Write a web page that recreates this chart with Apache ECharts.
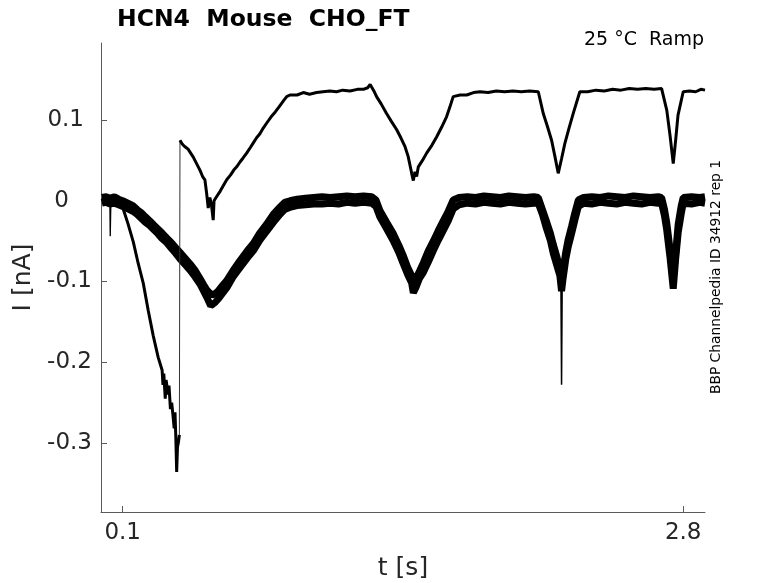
<!DOCTYPE html>
<html>
<head>
<meta charset="utf-8">
<script src="https://cdn.jsdelivr.net/npm/echarts@6/dist/echarts.min.js"></script>
<style>
html,body{margin:0;padding:0;background:#fff;}
#chart{width:778px;height:583px;}
</style>
</head>
<body>
<div id="chart"></div>
<script>
// ---- data (t [s], I [nA]) ----
const titleText = 'HCN4  Mouse  CHO_FT';
const conditionText = '25 °C  Ramp';
const sideText = 'BBP Channelpedia ID 34912 rep 1';
const xTicks = [0.1, 2.8];
const yTicks = [-0.3, -0.2, -0.1, 0, 0.1];

// thin/noisy sweep: fast run-down, jump, then upper ramp response
const traceA1 = [[0.000,0.003],[0.010,-0.001],[0.019,0.004],[0.028,0.000],[0.038,0.003],[0.043,-0.002],[0.055,0.003],[0.063,0.000],[0.072,0.003],[0.082,-0.002],[0.092,-0.004],[0.101,-0.009],[0.125,-0.028],[0.151,-0.051],[0.175,-0.078],[0.199,-0.102],[0.223,-0.136],[0.247,-0.167],[0.271,-0.194],[0.290,-0.210],[0.294,-0.228],[0.298,-0.214],[0.305,-0.245],[0.309,-0.222],[0.319,-0.240],[0.323,-0.229],[0.330,-0.258],[0.336,-0.250],[0.343,-0.268],[0.348,-0.282],[0.352,-0.262],[0.356,-0.294],[0.360,-0.336],[0.364,-0.305],[0.368,-0.300],[0.373,-0.290]];
const jumpA = [[0.373,-0.290],[0.376,0.075]];
const spikeA = [[0.038,0.003],[0.040,-0.044],[0.043,-0.002]];
const traceA2 = [[0.376,0.075],[0.385,0.071],[0.395,0.068],[0.405,0.066],[0.415,0.064],[0.424,0.062],[0.440,0.054],[0.456,0.046],[0.472,0.038],[0.485,0.030],[0.496,0.026],[0.504,0.010],[0.512,-0.009],[0.520,0.004],[0.528,-0.006],[0.536,-0.024],[0.540,0.000],[0.552,0.005],[0.570,0.012],[0.585,0.019],[0.601,0.026],[0.620,0.032],[0.635,0.038],[0.649,0.042],[0.665,0.048],[0.680,0.053],[0.697,0.059],[0.715,0.066],[0.730,0.072],[0.745,0.078],[0.761,0.083],[0.777,0.090],[0.793,0.096],[0.815,0.104],[0.835,0.110],[0.855,0.117],[0.875,0.124],[0.890,0.129],[0.906,0.131],[0.940,0.131],[0.970,0.134],[1.000,0.132],[1.034,0.134],[1.065,0.135],[1.098,0.136],[1.130,0.135],[1.160,0.137],[1.195,0.136],[1.230,0.138],[1.259,0.138],[1.280,0.140],[1.292,0.144],[1.299,0.141],[1.310,0.136],[1.323,0.129],[1.345,0.120],[1.371,0.108],[1.395,0.098],[1.420,0.088],[1.440,0.078],[1.460,0.067],[1.475,0.055],[1.484,0.044],[1.492,0.034],[1.500,0.025],[1.508,0.036],[1.516,0.030],[1.524,0.042],[1.544,0.050],[1.564,0.059],[1.590,0.069],[1.612,0.079],[1.636,0.091],[1.660,0.104],[1.676,0.116],[1.692,0.129],[1.725,0.131],[1.757,0.131],[1.790,0.134],[1.821,0.135],[1.860,0.134],[1.900,0.136],[1.940,0.135],[1.980,0.136],[2.020,0.135],[2.060,0.136],[2.102,0.135],[2.126,0.108],[2.146,0.092],[2.166,0.075],[2.182,0.055],[2.198,0.034],[2.214,0.052],[2.230,0.071],[2.250,0.090],[2.270,0.108],[2.302,0.135],[2.340,0.135],[2.380,0.137],[2.420,0.136],[2.460,0.138],[2.500,0.137],[2.540,0.139],[2.580,0.138],[2.620,0.139],[2.660,0.138],[2.696,0.139],[2.721,0.112],[2.737,0.080],[2.752,0.046],[2.764,0.076],[2.775,0.106],[2.800,0.135],[2.830,0.136],[2.860,0.135],[2.885,0.138],[2.905,0.137]];

// thick band: two overlapping sweeps (upper and lower edge of the band)
const traceB1 = [[0.000,0.004],[0.020,0.005],[0.040,0.003],[0.060,0.005],[0.080,0.002],[0.100,0.000],[0.125,-0.003],[0.149,-0.006],[0.170,-0.011],[0.190,-0.015],[0.210,-0.020],[0.231,-0.025],[0.250,-0.030],[0.270,-0.035],[0.290,-0.040],[0.312,-0.046],[0.335,-0.052],[0.355,-0.058],[0.376,-0.064],[0.400,-0.071],[0.424,-0.078],[0.448,-0.086],[0.472,-0.096],[0.490,-0.104],[0.504,-0.110],[0.518,-0.114],[0.532,-0.117],[0.545,-0.115],[0.559,-0.112],[0.580,-0.105],[0.601,-0.099],[0.630,-0.087],[0.665,-0.074],[0.700,-0.062],[0.729,-0.053],[0.760,-0.040],[0.793,-0.029],[0.825,-0.017],[0.857,-0.008],[0.880,-0.002],[0.906,0.000],[0.940,0.002],[0.980,0.003],[1.020,0.004],[1.060,0.005],[1.100,0.004],[1.140,0.005],[1.180,0.006],[1.220,0.005],[1.260,0.006],[1.300,0.005],[1.320,0.001],[1.339,-0.012],[1.370,-0.026],[1.402,-0.040],[1.430,-0.055],[1.450,-0.067],[1.472,-0.082],[1.492,-0.093],[1.502,-0.100],[1.513,-0.096],[1.530,-0.087],[1.548,-0.077],[1.572,-0.062],[1.596,-0.050],[1.620,-0.037],[1.644,-0.025],[1.668,-0.013],[1.692,0.001],[1.720,0.004],[1.760,0.005],[1.800,0.004],[1.840,0.006],[1.880,0.005],[1.920,0.004],[1.960,0.006],[2.000,0.005],[2.040,0.004],[2.080,0.005],[2.102,0.004],[2.122,-0.011],[2.142,-0.026],[2.160,-0.040],[2.174,-0.054],[2.190,-0.068],[2.206,-0.084],[2.214,-0.100],[2.221,-0.086],[2.234,-0.064],[2.246,-0.048],[2.262,-0.032],[2.278,-0.015],[2.295,0.001],[2.320,0.004],[2.360,0.005],[2.400,0.004],[2.440,0.006],[2.480,0.005],[2.520,0.004],[2.560,0.006],[2.600,0.005],[2.640,0.004],[2.680,0.005],[2.696,0.004],[2.710,-0.011],[2.720,-0.026],[2.736,-0.059],[2.752,-0.096],[2.764,-0.064],[2.776,-0.029],[2.790,-0.007],[2.800,0.004],[2.840,0.005],[2.880,0.004],[2.905,0.005]];

const traceB2 = [[0.000,-0.003],[0.020,-0.002],[0.040,-0.004],[0.060,-0.003],[0.080,-0.005],[0.100,-0.007],[0.125,-0.010],[0.149,-0.013],[0.170,-0.017],[0.190,-0.022],[0.210,-0.027],[0.231,-0.031],[0.250,-0.036],[0.270,-0.041],[0.290,-0.047],[0.312,-0.052],[0.335,-0.059],[0.355,-0.065],[0.376,-0.072],[0.400,-0.079],[0.424,-0.086],[0.448,-0.094],[0.472,-0.103],[0.490,-0.112],[0.504,-0.119],[0.515,-0.125],[0.524,-0.130],[0.535,-0.128],[0.545,-0.126],[0.559,-0.122],[0.580,-0.115],[0.601,-0.108],[0.630,-0.095],[0.665,-0.083],[0.700,-0.071],[0.729,-0.062],[0.760,-0.049],[0.793,-0.038],[0.825,-0.027],[0.857,-0.017],[0.880,-0.011],[0.906,-0.008],[0.940,-0.006],[0.980,-0.005],[1.020,-0.004],[1.060,-0.004],[1.100,-0.003],[1.140,-0.004],[1.180,-0.002],[1.220,-0.003],[1.260,-0.002],[1.300,-0.003],[1.320,-0.007],[1.339,-0.020],[1.370,-0.034],[1.402,-0.049],[1.430,-0.064],[1.450,-0.077],[1.472,-0.091],[1.492,-0.102],[1.500,-0.114],[1.513,-0.107],[1.530,-0.096],[1.548,-0.089],[1.572,-0.076],[1.596,-0.062],[1.620,-0.049],[1.644,-0.037],[1.668,-0.025],[1.692,-0.010],[1.720,-0.005],[1.760,-0.003],[1.800,-0.004],[1.840,-0.002],[1.880,-0.003],[1.920,-0.004],[1.960,-0.002],[2.000,-0.003],[2.040,-0.004],[2.080,-0.003],[2.102,-0.003],[2.122,-0.017],[2.142,-0.035],[2.160,-0.049],[2.174,-0.065],[2.190,-0.079],[2.206,-0.093],[2.214,-0.112],[2.221,-0.097],[2.234,-0.073],[2.246,-0.057],[2.262,-0.041],[2.278,-0.024],[2.295,-0.007],[2.320,-0.003],[2.360,-0.004],[2.400,-0.002],[2.440,-0.003],[2.480,-0.004],[2.520,-0.002],[2.560,-0.003],[2.600,-0.004],[2.640,-0.002],[2.680,-0.003],[2.696,-0.003],[2.710,-0.019],[2.720,-0.035],[2.736,-0.069],[2.752,-0.109],[2.764,-0.071],[2.776,-0.039],[2.790,-0.017],[2.800,-0.003],[2.840,-0.004],[2.880,-0.002],[2.905,-0.003]];
const spikeB = [[2.211,-0.105],[2.214,-0.228],[2.217,-0.105]];

const xRange = [-0.0045, 2.905];
const yRange = [-0.3855, 0.1954];

// ---- chart ----
const FONT = 'DejaVu Sans';
const chart = echarts.init(document.getElementById('chart'), null, {renderer: 'canvas'});
const axisGray = '#5a5a5a';
const textGray = '#262626';

function lineSeries(data, width, color) {
  return {
    type: 'line', data: data, showSymbol: false, symbol: 'none',
    lineStyle: {color: color || '#000', width: width}, animation: false,
    silent: true
  };
}

chart.setOption({
  animation: false,
  backgroundColor: '#fff',
  textStyle: {fontFamily: FONT},
  title: {
    text: titleText, left: 112, top: 3,
    textStyle: {fontFamily: FONT, fontSize: 23.5, fontWeight: 'bold', color: '#000'}
  },
  grid: {left: 101, right: 73, top: 43, bottom: 71, containLabel: false, outerBoundsMode: 'none'},
  xAxis: {
    type: 'value', min: xRange[0], max: xRange[1],
    name: 't [s]', nameLocation: 'middle', nameGap: 44,
    nameTextStyle: {fontFamily: FONT, fontSize: 25, color: textGray},
    axisLine: {show: true, onZero: false, lineStyle: {color: axisGray, width: 1}},
    axisTick: {show: true, inside: true, length: 6, customValues: xTicks, lineStyle: {color: axisGray}},
    axisLabel: {customValues: xTicks, fontFamily: FONT, fontSize: 23, color: textGray, margin: 10,
      formatter: v => v.toFixed(1)},
    splitLine: {show: false}
  },
  yAxis: {
    type: 'value', min: yRange[0], max: yRange[1],
    name: 'I [nA]', nameLocation: 'middle', nameGap: 59,
    nameTextStyle: {fontFamily: FONT, fontSize: 25, color: textGray},
    axisLine: {show: true, onZero: false, lineStyle: {color: axisGray, width: 1}},
    axisTick: {show: true, inside: true, length: 6, customValues: yTicks, lineStyle: {color: axisGray}},
    axisLabel: {customValues: yTicks, fontFamily: FONT, fontSize: 23, color: textGray, margin: 9, align: 'right',
      formatter: v => {
        if (Math.abs(v) < 1e-9) return '{z|0}';
        if (v > 0) return '{p|' + v.toFixed(1) + '}';
        return '{n|' + v.toFixed(1) + '}';
      },
      rich: {
        z: {fontFamily: FONT, fontSize: 23, color: textGray, padding: [0, 23, 0, 0]},
        p: {fontFamily: FONT, fontSize: 23, color: textGray, padding: [0, 8, 0, 0]},
        n: {fontFamily: FONT, fontSize: 23, color: textGray}
      }
    },
    splitLine: {show: false}
  },
  graphic: [
    {type: 'text', right: 74, top: 31,
      style: {text: conditionText, font: '19px "DejaVu Sans"', fill: '#000'}},
    {type: 'text', x: 716, y: 277, rotation: Math.PI / 2,
      style: {text: sideText, font: '13.8px "DejaVu Sans"', fill: '#000', align: 'center', verticalAlign: 'middle'}}
  ],
  series: [
    lineSeries(traceB1, 7),
    lineSeries(traceB2, 7),
    lineSeries(spikeB, 1.5),
    lineSeries(traceA1, 3),
    lineSeries(spikeA, 1.3),
    lineSeries(jumpA, 1, '#333'),
    lineSeries(traceA2, 3)
  ]
});
</script>
</body>
</html>
